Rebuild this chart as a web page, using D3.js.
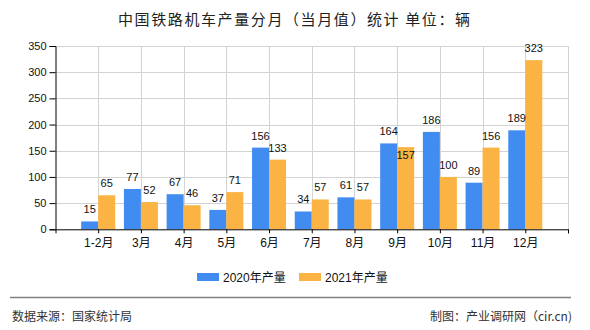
<!DOCTYPE html>
<html><head><meta charset="utf-8">
<script src="https://cdn.jsdelivr.net/npm/d3@7/dist/d3.min.js"></script>
<style>
html,body{margin:0;padding:0;background:#fff;}
svg{display:block;font-family:"Liberation Sans","Noto Sans CJK SC",sans-serif;}
</style></head>
<body><svg id="c" width="590" height="330"></svg>
<script>
const categories = ["1-2月","3月","4月","5月","6月","7月","8月","9月","10月","11月","12月"];
const series2020 = [15,77,67,37,156,34,61,164,186,89,189];
const series2021 = [65,52,46,71,133,57,57,157,100,156,323];
const seriesNames = ["2020年产量","2021年产量"];
const yTicks = [0,50,100,150,200,250,300,350];
const colors = ["#418cf0","#fbb443"];

(function () {
const svg = d3.select("#c");
const pL = 55.5, pR = 568, pT = 46, pB = 229.3;
const x = d3.scaleLinear().domain([0, categories.length + 1]).range([pL, pR]);
const y = d3.scaleLinear().domain([0, 350]).range([pB, pT]);
const barW = 17;

// title
svg.append("text").attr("x", 118).attr("y", 25)
  .attr("font-family", "'Noto Sans CJK SC',sans-serif").attr("font-size", 15)
  .attr("fill", "#222").attr("textLength", 352).attr("lengthAdjust", "spacing")
  .text("中国铁路机车产量分月（当月值）统计 单位：辆");

// horizontal gridlines
svg.append("g").selectAll("line").data(yTicks.filter(d => d > 0)).join("line")
  .attr("x1", pL).attr("x2", pR)
  .attr("y1", d => Math.round(y(d)) + 0.5).attr("y2", d => Math.round(y(d)) + 0.5)
  .attr("stroke", "#d3d3d3").attr("stroke-width", 1);
// vertical gridlines at category centres and right edge
svg.append("g").selectAll("line").data(d3.range(1, categories.length + 2)).join("line")
  .attr("x1", d => Math.round(x(d)) + 0.5).attr("x2", d => Math.round(x(d)) + 0.5)
  .attr("y1", pT).attr("y2", pB)
  .attr("stroke", "#d3d3d3").attr("stroke-width", 1);

// bars
const groups = [series2020, series2021];
groups.forEach((vals, s) => {
  svg.append("g").selectAll("rect").data(vals).join("rect")
    .attr("x", (d, i) => x(i + 1) + (s === 0 ? -barW : 0))
    .attr("y", d => y(d))
    .attr("width", barW)
    .attr("height", d => y(0) - y(d))
    .attr("fill", colors[s]);
});

// value labels with simple collision handling
const lblG = svg.append("g").attr("font-size", 11).attr("fill", "#111").attr("text-anchor", "middle");
categories.forEach((c, i) => {
  const a = series2020[i], b = series2021[i];
  const wa = String(a).length * 6.1, wb = String(b).length * 6.1;
  const ya = y(a) - 8;
  let yb = y(b) - 8;
  const hOverlap = (wa / 2 + wb / 2) > barW;
  if (hOverlap && Math.abs(ya - yb) < 8) yb = y(b) + 12;
  lblG.append("text").attr("x", x(i + 1) - barW / 2).attr("y", ya).text(a);
  lblG.append("text").attr("x", x(i + 1) + barW / 2).attr("y", yb).text(b);
});

// y axis
const yAxis = svg.append("g").attr("transform", `translate(${pL},0)`)
  .call(d3.axisLeft(y).tickValues(yTicks).tickSize(6).tickPadding(3));
yAxis.select(".domain").attr("stroke", "#000");
yAxis.selectAll(".tick line").attr("stroke", "#000");
yAxis.selectAll(".tick text").attr("font-size", 11).attr("fill", "#111")
  .attr("font-family", "'Liberation Sans',sans-serif");

// x axis
const xAxis = svg.append("g").attr("transform", `translate(0,${pB})`)
  .call(d3.axisBottom(x).tickValues(d3.range(1, categories.length + 2)).tickSize(4).tickPadding(5)
    .tickFormat(d => categories[d - 1] || ""));
xAxis.select(".domain").attr("stroke", "#000");
xAxis.selectAll(".tick line").attr("stroke", "#000");
xAxis.selectAll(".tick text").attr("font-size", 12).attr("fill", "#111")
  .attr("font-family", "'Liberation Sans','Noto Sans CJK SC',sans-serif");

// legend
const legX = [197, 299];
seriesNames.forEach((n, s) => {
  svg.append("rect").attr("x", legX[s]).attr("y", 273).attr("width", 22).attr("height", 8).attr("fill", colors[s]);
  svg.append("text").attr("x", legX[s] + 26).attr("y", 282).attr("font-size", 12).attr("fill", "#111").text(n);
});

// separator and footer
svg.append("line").attr("x1", 10).attr("x2", 571).attr("y1", 297.5).attr("y2", 297.5)
  .attr("stroke", "#808080").attr("stroke-width", 1.5);
svg.append("text").attr("x", 12).attr("y", 321).attr("font-size", 12).attr("fill", "#333")
  .attr("font-family", "'Noto Sans CJK SC',sans-serif").text("数据来源：国家统计局");
svg.append("text").attr("x", 572).attr("y", 321).attr("font-size", 12).attr("fill", "#333")
  .attr("text-anchor", "end").attr("font-family", "'Noto Sans CJK SC',sans-serif").text("制图：产业调研网（cir.cn)");
})();
</script></body></html>
